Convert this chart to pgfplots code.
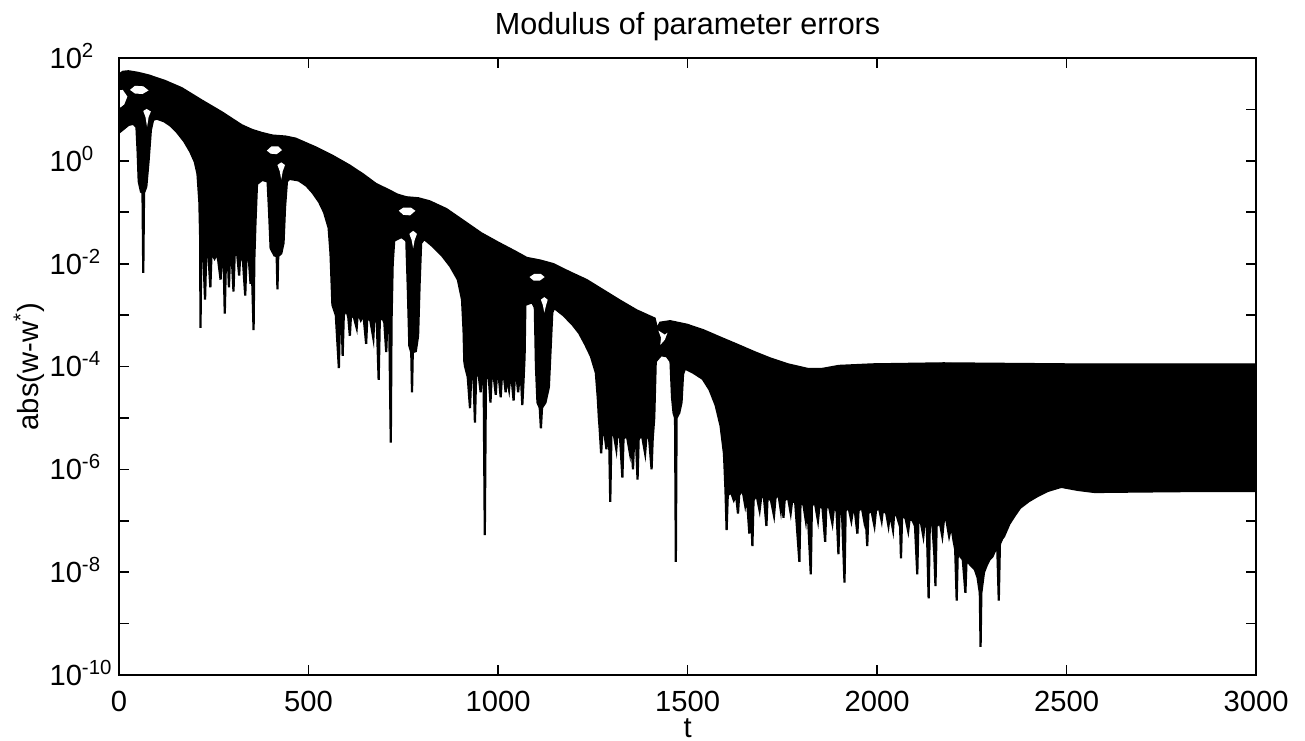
\documentclass[border=0pt]{standalone}
\usepackage{fontspec}
\setmainfont{Liberation Sans}
\usepackage{pgfplots}
\usepackage{pgfplotstable}
\pgfplotsset{compat=1.18}
\usepgfplotslibrary{fillbetween}

% upper envelope of |w-w*| (t, log10 value)
\pgfplotstableread{
t lg
0 1.69
10 1.74
25 1.75
50 1.72
78 1.67
122 1.56
166 1.42
219 1.18
272 0.95
324 0.70
351 0.61
377 0.55
405 0.50
440 0.48
466 0.44
519 0.27
565 0.10
608 -0.08
645 -0.26
678 -0.44
714 -0.57
735 -0.65
758 -0.70
790 -0.72
820 -0.78
864 -0.93
913 -1.18
956 -1.40
1000 -1.58
1044 -1.75
1076 -1.88
1111 -1.93
1146 -2.00
1190 -2.16
1234 -2.31
1278 -2.51
1322 -2.71
1366 -2.90
1414 -3.06
1420 -3.25
1427 -3.14
1454 -3.11
1499 -3.18
1543 -3.29
1587 -3.43
1632 -3.57
1676 -3.71
1720 -3.84
1765 -3.95
1818 -4.04
1854 -4.04
1899 -3.98
1988 -3.95
2175 -3.93
2500 -3.95
3000 -3.95
}\upperenv

% lower envelope of |w-w*| (t, log10 value)
\pgfplotstableread{
t lg
0 0.55
12 0.62
25 0.70
38 0.72
46 0.66
49 0.20
52 -0.40
58 -0.60
62 -0.62
64 -2.18
66 -0.62
72 -0.50
78 0.00
84 0.60
90 0.80
100 0.82
119 0.77
137 0.68
154 0.55
172 0.38
188 0.18
200 -0.02
207 -0.25
212 -0.80
214 -1.45
215 -3.25
217 -1.70
222 -1.75
227 -2.70
230 -1.80
236 -1.85
241 -2.46
244 -1.80
252 -1.90
258 -1.80
262 -1.95
268 -2.31
271 -1.85
276 -1.95
279 -2.97
282 -1.95
287 -1.85
290 -2.46
293 -1.80
298 -1.95
302 -2.54
305 -1.85
311 -1.75
317 -2.23
320 -1.80
327 -1.95
333 -2.62
336 -1.95
342 -1.85
347 -2.39
350 -1.95
355 -3.29
357 -1.90
360 -1.20
364 -0.45
378 -0.37
392 -0.40
396 -1.00
400 -1.70
410 -1.84
416 -1.85
418 -2.50
420 -1.85
428 -1.80
434 -1.60
438 -0.90
443 -0.40
450 -0.35
474 -0.38
494 -0.48
511 -0.62
528 -0.80
541 -1.00
553 -1.30
558 -1.80
561 -2.40
563 -2.80
572 -3.00
580 -4.03
583 -3.00
587 -2.95
590 -3.79
593 -3.00
600 -2.90
605 -3.05
609 -3.40
612 -3.00
620 -3.05
627 -3.25
630 -2.95
638 -3.10
645 -3.00
652 -3.56
655 -3.05
663 -3.10
671 -3.45
674 -3.00
680 -3.10
685 -4.26
688 -3.10
695 -3.05
700 -3.15
705 -3.72
708 -3.10
713 -3.20
717 -5.48
719 -3.10
722 -2.00
726 -1.55
745 -1.48
758 -1.55
762 -2.50
766 -3.60
771 -3.72
773 -4.50
775 -3.72
783 -3.70
789 -3.40
793 -2.40
797 -1.60
805 -1.52
826 -1.65
852 -1.84
874 -2.05
894 -2.31
905 -2.70
909 -3.30
911 -3.90
913 -4.00
920 -4.20
926 -4.81
929 -4.20
935 -4.15
939 -5.09
942 -4.20
948 -4.10
954 -4.50
957 -4.20
962 -4.25
965 -7.28
968 -4.25
975 -4.15
980 -4.70
983 -4.20
988 -4.15
994 -4.55
997 -4.15
1002 -4.20
1007 -4.60
1010 -4.20
1015 -4.15
1020 -4.50
1023 -4.20
1029 -4.45
1032 -4.20
1036 -4.25
1041 -4.66
1044 -4.25
1049 -4.20
1053 -4.50
1056 -4.25
1061 -4.30
1064 -4.75
1067 -4.30
1070 -3.80
1072 -2.80
1090 -2.75
1097 -2.85
1100 -4.00
1104 -4.70
1110 -4.80
1113 -5.20
1116 -4.80
1125 -4.70
1134 -4.40
1139 -3.60
1143 -2.95
1148 -2.86
1172 -3.00
1196 -3.18
1214 -3.35
1230 -3.57
1245 -3.80
1258 -4.12
1263 -4.60
1266 -5.00
1268 -5.20
1272 -5.69
1275 -5.30
1280 -5.25
1286 -5.61
1289 -5.30
1293 -5.35
1296 -6.63
1299 -5.35
1305 -5.30
1312 -5.61
1315 -5.30
1322 -5.40
1328 -6.16
1331 -5.40
1340 -5.35
1348 -5.69
1351 -5.40
1356 -6.00
1359 -5.40
1364 -5.45
1368 -6.20
1371 -5.40
1380 -5.35
1388 -5.69
1391 -5.40
1398 -5.35
1405 -6.00
1408 -5.40
1412 -5.00
1416 -3.90
1430 -3.78
1445 -3.80
1455 -3.90
1459 -4.60
1463 -4.90
1467 -5.00
1469 -7.80
1471 -5.00
1478 -4.90
1484 -4.70
1488 -4.15
1493 -4.04
1515 -4.12
1540 -4.24
1558 -4.45
1574 -4.75
1587 -5.15
1596 -5.69
1600 -6.40
1603 -7.18
1606 -6.50
1615 -6.45
1622 -6.60
1628 -6.50
1633 -6.86
1636 -6.50
1645 -6.40
1652 -6.70
1656 -6.50
1663 -7.25
1666 -6.55
1671 -7.49
1674 -6.60
1682 -6.50
1690 -6.80
1694 -6.55
1701 -6.50
1708 -7.10
1711 -6.55
1720 -6.60
1728 -6.90
1732 -6.55
1740 -6.50
1746 -6.80
1749 -6.55
1753 -6.94
1756 -6.60
1765 -6.55
1772 -6.85
1776 -6.60
1784 -6.65
1795 -7.80
1798 -6.60
1806 -6.70
1812 -7.00
1816 -6.65
1825 -8.04
1828 -6.70
1836 -6.65
1844 -7.00
1848 -6.70
1856 -6.75
1863 -7.41
1866 -6.70
1874 -6.75
1882 -7.05
1886 -6.75
1893 -6.80
1898 -7.65
1901 -6.80
1907 -6.75
1914 -8.20
1917 -6.80
1925 -6.75
1932 -7.00
1936 -6.80
1942 -6.85
1948 -7.25
1951 -6.80
1960 -6.75
1966 -7.00
1969 -6.80
1974 -7.49
1977 -6.85
1985 -6.80
1993 -7.10
1997 -6.80
2005 -6.75
2012 -7.00
2015 -6.80
2024 -6.85
2030 -7.10
2034 -6.85
2042 -7.18
2045 -6.85
2052 -6.90
2058 -7.05
2060 -6.90
2063 -7.73
2066 -6.90
2075 -6.95
2082 -7.20
2086 -6.95
2094 -7.00
2100 -7.10
2106 -8.04
2109 -7.00
2116 -7.05
2122 -7.30
2126 -7.00
2131 -7.05
2136 -8.51
2139 -7.05
2146 -7.10
2151 -7.65
2154 -8.27
2157 -7.10
2166 -7.05
2172 -7.30
2176 -7.00
2182 -6.95
2190 -7.30
2196 -7.10
2202 -7.40
2206 -7.55
2210 -8.55
2213 -7.55
2220 -7.70
2226 -7.75
2233 -8.40
2236 -7.75
2245 -7.85
2252 -7.90
2258 -7.95
2265 -8.10
2271 -8.40
2273 -9.45
2275 -8.40
2282 -8.00
2290 -7.85
2297 -7.75
2304 -7.70
2310 -7.60
2317 -7.50
2321 -8.55
2324 -7.45
2330 -7.35
2335 -7.30
2349 -7.06
2363 -6.90
2377 -6.75
2400 -6.62
2423 -6.52
2450 -6.42
2486 -6.34
2530 -6.40
2574 -6.44
2700 -6.43
2850 -6.42
3000 -6.42
}\lowerenv

% white gaps inside the band (t, log10 value)
\pgfplotstableread{
t lg
29 1.38
42 1.46
64 1.45
78 1.37
62 1.30
42 1.31
}\hA
\pgfplotstableread{
t lg
0 1.37
10 1.38
22 1.25
14 1.10
4 1.04
0 1.05
}\hB
\pgfplotstableread{
t lg
64 0.97
73 1.01
84 0.96
78 0.85
74 0.66
70 0.85
}\hC
\pgfplotstableread{
t lg
390 0.20
402 0.28
420 0.28
430 0.21
416 0.13
400 0.14
}\hD
\pgfplotstableread{
t lg
418 -0.08
428 -0.03
438 -0.08
432 -0.20
428 -0.36
424 -0.20
}\hE
\pgfplotstableread{
t lg
738 -0.97
750 -0.91
770 -0.91
782 -0.97
768 -1.06
750 -1.05
}\hF
\pgfplotstableread{
t lg
766 -1.42
776 -1.36
786 -1.42
780 -1.54
776 -1.70
772 -1.54
}\hG
\pgfplotstableread{
t lg
1083 -2.26
1095 -2.20
1113 -2.20
1123 -2.26
1110 -2.33
1094 -2.33
}\hH
\pgfplotstableread{
t lg
1113 -2.70
1122 -2.65
1131 -2.70
1127 -2.80
1122 -2.95
1118 -2.80
}\hI
\pgfplotstableread{
t lg
1423 -3.30
1440 -3.38
1447 -3.34
1440 -3.48
1428 -3.58
1430 -3.44
}\hJ

\begin{document}
\begin{tikzpicture}[font=\fontsize{10.5}{12.6}\selectfont]
\begin{axis}[
  at={(0pt,0pt)}, anchor=south west,
  scale only axis, width=409.5pt, height=222.2pt,
  xmin=0, xmax=3000,
  ymode=log, ymin=1e-10, ymax=1e2,
  xtick={0,500,1000,1500,2000,2500,3000},
  xticklabels={0,500,1000,1500,2000,2500,3000},
  ytick={1e-10,1e-8,1e-6,1e-4,1e-2,1,1e2},
  yticklabels={10\rlap{\textsuperscript{-10}},10\rlap{\textsuperscript{-8}},10\rlap{\textsuperscript{-6}},10\rlap{\textsuperscript{-4}},10\rlap{\textsuperscript{-2}},10\rlap{\textsuperscript{0}},10\rlap{\textsuperscript{2}}},
  minor ytick={1e-9,1e-7,1e-5,1e-3,1e-1,1e1},
  tick align=inside,
  major tick length=3.6pt, minor tick length=3.6pt,
  every tick/.style={black, line width=0.6pt},
  axis line style={line width=0.7pt},
  axis on top,
  xticklabel style={yshift=-2.1pt},
  yticklabel style={anchor=base east, xshift=-9.8pt, yshift=-3.75pt},
  every axis title shift=0pt,
  title={Modulus of parameter errors},
  title style={at={(axis description cs:0.5,1.0504)}, anchor=center, font=\fontsize{11}{13}\selectfont},
  xlabel={t},
  xlabel style={at={(axis description cs:0.5,-0.086)}, anchor=center},
  ylabel={abs(w-w\textsuperscript{*})},
  ylabel style={at={(axis description cs:-0.0791,0.5)}, anchor=center},
]
\addplot[name path=U, draw=black, line width=0.5pt] table[x=t, y expr=10^(\thisrow{lg})] {\upperenv};
\addplot[name path=L, draw=black, line width=0.8pt] table[x=t, y expr=10^(\thisrow{lg})] {\lowerenv};
\addplot[black] fill between[of=U and L];
\addplot[fill=white, draw=none] table[x=t, y expr=10^(\thisrow{lg})] {\hA};
\addplot[fill=white, draw=none] table[x=t, y expr=10^(\thisrow{lg})] {\hB};
\addplot[fill=white, draw=none] table[x=t, y expr=10^(\thisrow{lg})] {\hC};
\addplot[fill=white, draw=none] table[x=t, y expr=10^(\thisrow{lg})] {\hD};
\addplot[fill=white, draw=none] table[x=t, y expr=10^(\thisrow{lg})] {\hE};
\addplot[fill=white, draw=none] table[x=t, y expr=10^(\thisrow{lg})] {\hF};
\addplot[fill=white, draw=none] table[x=t, y expr=10^(\thisrow{lg})] {\hG};
\addplot[fill=white, draw=none] table[x=t, y expr=10^(\thisrow{lg})] {\hH};
\addplot[fill=white, draw=none] table[x=t, y expr=10^(\thisrow{lg})] {\hI};
\addplot[fill=white, draw=none] table[x=t, y expr=10^(\thisrow{lg})] {\hJ};
\end{axis}
\pgfresetboundingbox
\path (-42.86pt,-23.41pt) rectangle (427.1pt,243.1pt);
\end{tikzpicture}
\end{document}
